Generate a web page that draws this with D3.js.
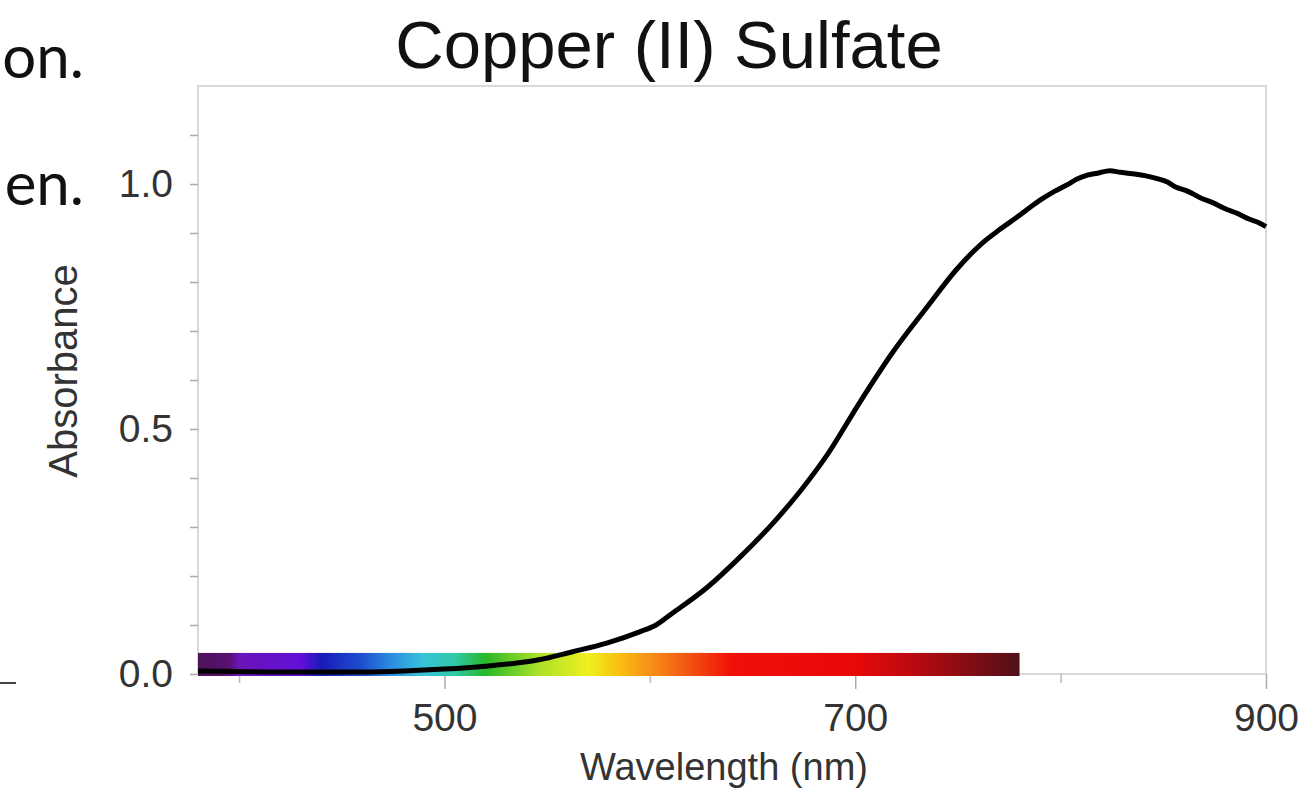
<!DOCTYPE html>
<html>
<head>
<meta charset="utf-8">
<script src="https://cdn.jsdelivr.net/npm/d3@7/dist/d3.min.js"></script>
<style>
  body { margin: 0; background: #fff; }
  svg { display: block; }
</style>
</head>
<body>
<div id="frame"></div>
<script>
//absorbance spectrum
let wavelengths = [380, 400, 420, 440, 460, 480, 500, 520, 540, 546, 562, 579, 595, 603, 611, 628, 644, 660, 673, 686, 702, 718, 735, 749, 762, 770, 779, 786, 790, 797, 803, 808, 813, 818, 824, 829, 835, 841, 847, 852, 856, 862, 868, 874, 881, 886, 892, 896, 900];
let absorbance = [0.006, 0.005, 0.004, 0.004, 0.004, 0.006, 0.010, 0.016, 0.025, 0.029, 0.045, 0.063, 0.086, 0.100, 0.124, 0.177, 0.239, 0.308, 0.372, 0.445, 0.553, 0.655, 0.749, 0.824, 0.880, 0.906, 0.933, 0.955, 0.967, 0.985, 0.998, 1.010, 1.018, 1.022, 1.027, 1.024, 1.021, 1.017, 1.011, 1.004, 0.994, 0.985, 0.972, 0.962, 0.948, 0.940, 0.928, 0.922, 0.913];

//visible spectrum strip along the bottom
let spectrumWl = [380, 395, 400, 430, 440, 460, 475, 490, 505, 520, 545, 570, 585, 600, 620, 640, 700, 725, 750, 780];
let spectrumColors = ['#4b1458', '#5a1070', '#6a14b8', '#6210d8', '#1a1ab8', '#1e50d0', '#2c90e0', '#38c4d8', '#30c8a8', '#28b828', '#a8e028', '#f0f020', '#f8c010', '#f89018', '#f05010', '#f01008', '#e80808', '#c00a10', '#900c14', '#501018'];
let spectrumTop = 0.043;

//axis ticks
let xMajor = [500, 700, 900],
    xMinor = [400, 600, 800],
    yTicks = [0, 0.1, 0.2, 0.3, 0.4, 0.5, 0.6, 0.7, 0.8, 0.9, 1.0, 1.1],
    yLabels = [0, 0.5, 1.0];

let margin = { top: 86, right: 46, bottom: 117, left: 198 },
    width = 1312 - margin.left - margin.right,
    height = 791 - margin.top - margin.bottom;

let font = '"Liberation Sans", Arial, Helvetica, sans-serif';

let x = d3.scaleLinear().domain([380, 900]).range([0, width]);
let y = d3.scaleLinear().domain([0, 1.2]).range([height, 0]);

let root = d3.select('#frame')
    .append('svg')
    .attr('width', 1312)
    .attr('height', 791);

//bits of slide text on the left
root.append('text')
    .attr('x', 84).attr('y', 78)
    .attr('text-anchor', 'end')
    .style('font-family', 'Lato, sans-serif')
    .style('font-size', '60px')
    .style('fill', '#111')
    .text('on.');
root.append('text')
    .attr('x', 84).attr('y', 205)
    .attr('text-anchor', 'end')
    .style('font-family', 'Lato, sans-serif')
    .style('font-size', '60px')
    .style('fill', '#111')
    .text('en.');
root.append('line')
    .attr('x1', 0).attr('x2', 16)
    .attr('y1', 683).attr('y2', 683)
    .style('stroke', '#444')
    .style('stroke-width', 2);

//title
root.append('text')
    .attr('x', 669).attr('y', 68)
    .attr('text-anchor', 'middle')
    .style('font-family', font)
    .style('font-size', '67px')
    .style('fill', '#111')
    .text('Copper (II) Sulfate');

let svg = root.append('g')
    .attr('transform', 'translate(' + margin.left + ',' + margin.top + ')');

//gradient for the spectrum strip
let grad = root.append('defs')
    .append('linearGradient')
    .attr('id', 'spectrum')
    .attr('gradientUnits', 'userSpaceOnUse')
    .attr('x1', x(spectrumWl[0])).attr('x2', x(spectrumWl[spectrumWl.length - 1]))
    .attr('y1', 0).attr('y2', 0);
let wlSpan = spectrumWl[spectrumWl.length - 1] - spectrumWl[0];
grad.selectAll('stop')
    .data(spectrumWl)
    .enter()
    .append('stop')
    .attr('offset', d => (d - spectrumWl[0]) / wlSpan)
    .attr('stop-color', (d, i) => spectrumColors[i]);

//plot frame
svg.append('rect')
    .attr('width', width).attr('height', height)
    .style('fill', 'none')
    .style('stroke', '#d9d9d9')
    .style('stroke-width', 2);

//y axis
let yAxis = svg.append('g')
    .call(d3.axisLeft(y)
        .tickValues(yTicks)
        .tickSize(8)
        .tickPadding(17)
        .tickFormat(d => yLabels.some(v => Math.abs(v - d) < 1e-9) ? d3.format('.1f')(d) : ''));
yAxis.select('.domain').remove();
yAxis.selectAll('line').style('stroke', '#aaa').style('stroke-width', 1.5);
yAxis.selectAll('text')
    .style('font-family', font)
    .style('font-size', '39px')
    .style('fill', '#333');

//x axis
let xAxis = svg.append('g')
    .attr('transform', 'translate(0,' + height + ')')
    .call(d3.axisBottom(x)
        .tickValues(xMajor)
        .tickSize(15)
        .tickPadding(14)
        .tickFormat(d3.format('d')));
xAxis.select('.domain').remove();
xAxis.selectAll('line').style('stroke', '#aaa').style('stroke-width', 1.5);
xAxis.selectAll('text')
    .style('font-family', font)
    .style('font-size', '39px')
    .style('fill', '#333');

let xMinorAxis = svg.append('g')
    .attr('transform', 'translate(0,' + height + ')')
    .call(d3.axisBottom(x).tickValues(xMinor).tickSize(9).tickFormat(''));
xMinorAxis.select('.domain').remove();
xMinorAxis.selectAll('line').style('stroke', '#bbb').style('stroke-width', 1.5);

//spectrum strip
svg.append('rect')
    .attr('x', x(spectrumWl[0]))
    .attr('y', y(spectrumTop))
    .attr('width', x(spectrumWl[spectrumWl.length - 1]) - x(spectrumWl[0]))
    .attr('height', y(0) - y(spectrumTop) + 2)
    .style('fill', 'url(#spectrum)');

//absorbance curve
let line = d3.line()
    .x((d, i) => x(wavelengths[i]))
    .y(d => y(d))
    .curve(d3.curveMonotoneX);
svg.append('path')
    .datum(absorbance)
    .attr('d', line)
    .style('fill', 'none')
    .style('stroke', '#000')
    .style('stroke-width', 5)
    .style('stroke-linejoin', 'round');

//axis titles
root.append('text')
    .attr('x', 724).attr('y', 780)
    .attr('text-anchor', 'middle')
    .style('font-family', font)
    .style('font-size', '38px')
    .style('fill', '#333')
    .text('Wavelength (nm)');
root.append('text')
    .attr('transform', 'translate(77,371) rotate(-90)')
    .attr('text-anchor', 'middle')
    .style('font-family', font)
    .style('font-size', '40px')
    .style('fill', '#333')
    .text('Absorbance');
</script>
</body>
</html>
